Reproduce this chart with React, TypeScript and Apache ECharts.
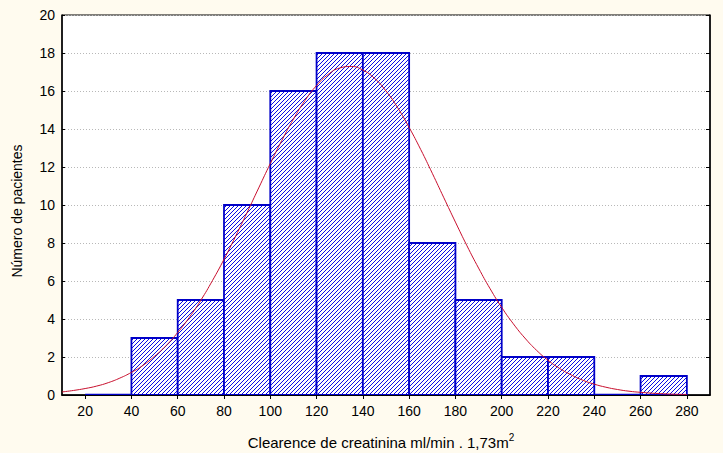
import React, { useEffect, useRef } from "react";
import * as echarts from "echarts";

// Histogram bins: [start, end]
const binStarts = [20, 40, 60, 80, 100, 120, 140, 160, 180, 200, 220, 240, 260];
const binEnds = [40, 60, 80, 100, 120, 140, 160, 180, 200, 220, 240, 260, 280];
const counts = [0, 3, 5, 10, 16, 18, 18, 8, 5, 2, 2, 0, 1];

// Fitted normal curve
const curveX = [10, 15, 20, 25, 30, 35, 40, 45, 50, 55, 60, 65, 70, 75, 80, 85, 90, 95, 100, 105, 110, 115, 120, 125, 130, 135, 140, 145, 150, 155, 160, 165, 170, 175, 180, 185, 190, 195, 200, 205, 210, 215, 220, 225, 230, 235, 240, 245, 250, 255, 260, 265, 270, 275, 280];
const curveY = [0.16, 0.24, 0.34, 0.47, 0.65, 0.89, 1.19, 1.56, 2.04, 2.6, 3.29, 4.08, 4.99, 6.02, 7.14, 8.35, 9.61, 10.9, 12.18, 13.4, 14.52, 15.5, 16.29, 16.87, 17.21, 17.29, 17.1, 16.67, 16.0, 15.13, 14.08, 12.92, 11.67, 10.38, 9.1, 7.85, 6.68, 5.59, 4.61, 3.75, 3.0, 2.36, 1.83, 1.4, 1.06, 0.78, 0.57, 0.41, 0.29, 0.2, 0.14, 0.095, 0.063, 0.04, 0.027];

const xTicks = [20, 40, 60, 80, 100, 120, 140, 160, 180, 200, 220, 240, 260, 280];

const BG = "#fffbef";
const BLUE = "#0000c8";
const HATCH = "#0a0ae6";
const RED = "#c8102e";
const FONT = "Liberation Sans, Arial, sans-serif";

export default function App() {
  const ref = useRef<HTMLDivElement>(null);
  useEffect(() => {
    if (!ref.current) return;
    const chart = echarts.init(ref.current, null, { renderer: "svg" });
    const barData = binStarts.map((s, i) => [s, binEnds[i], counts[i]]);
    const curveData = curveX.map((x, i) => [x, curveY[i]]);
    const step = 4;
    const renderItem = (params: any, api: any) => {
      const x0v = api.value(0);
      const x1v = api.value(1);
      const v = api.value(2);
      const pTop = api.coord([x0v, v]);
      const pBot = api.coord([x1v, 0]);
      const x0 = pTop[0], y0 = pTop[1], x1 = pBot[0], y1 = pBot[1];
      if (v === 0) {
        return {
          type: "line",
          shape: { x1: x0, y1: y1, x2: x1, y2: y1 },
          style: { stroke: BLUE, lineWidth: 2.5 },
        };
      }
      const children: any[] = [];
      children.push({
        type: "rect",
        shape: { x: x0, y: y0, width: x1 - x0, height: y1 - y0 },
        style: { fill: "#ffffff", stroke: null },
      });
      const cStart = Math.ceil((x0 + y0) / step) * step;
      const cEnd = x1 + y1;
      for (let c = cStart; c <= cEnd; c += step) {
        const xa = Math.max(x0, c - y1);
        const xb = Math.min(x1, c - y0);
        if (xb > xa) {
          children.push({
            type: "line",
            shape: { x1: xa, y1: c - xa, x2: xb, y2: c - xb },
            style: { stroke: HATCH, lineWidth: 1 },
          });
        }
      }
      children.push({
        type: "rect",
        shape: { x: x0, y: y0, width: x1 - x0, height: y1 - y0 },
        style: { fill: "none", stroke: BLUE, lineWidth: 1.8 },
      });
      return { type: "group", children };
    };

    const axisText = { color: "#000", fontSize: 14, fontFamily: FONT };
    chart.setOption({
      animation: false,
      backgroundColor: BG,
      grid: { left: 62, top: 15, right: 13, bottom: 58, show: true, backgroundColor: "#ffffff", borderColor: "#000", borderWidth: 1 },
      xAxis: [
        {
          type: "value",
          min: 10,
          max: 290,
          position: "bottom",
          axisLine: { show: true, onZero: false, lineStyle: { color: "#000", width: 1 } },
          axisTick: { show: false },
          axisLabel: { ...axisText, margin: 9, customValues: xTicks },
          splitLine: { show: false },
        },
        {
          type: "value",
          min: 10,
          max: 290,
          position: "top",
          axisLine: { show: true, lineStyle: { color: "#000", width: 1.5 } },
          axisTick: { show: true, inside: true, length: 4, customValues: xTicks, lineStyle: { color: "#000" } },
          axisLabel: { show: false },
          splitLine: { show: false },
        },
      ],
      yAxis: [
        {
          type: "value",
          min: 0,
          max: 20,
          interval: 2,
          position: "left",
          axisLine: { show: true, lineStyle: { color: "#000", width: 1.5 } },
          axisTick: { show: true, inside: true, length: 3, lineStyle: { color: "#000" } },
          axisLabel: { ...axisText, margin: 7 },
          splitLine: { show: true, lineStyle: { color: "#b8b8b8", type: [1, 2], width: 1 } },
        },
        {
          type: "value",
          min: 0,
          max: 20,
          interval: 2,
          position: "right",
          axisLine: { show: true, lineStyle: { color: "#000", width: 1.5 } },
          axisTick: { show: true, inside: true, length: 4, lineStyle: { color: "#000" } },
          axisLabel: { show: false },
          splitLine: { show: false },
        },
      ],
      graphic: [
        {
          type: "text",
          x: 17,
          y: 211,
          rotation: Math.PI / 2,
          style: {
            text: "Número de pacientes",
            fill: "#000",
            fontSize: 14,
            fontFamily: FONT,
            align: "center",
            verticalAlign: "middle",
          },
        },
        {
          type: "text",
          x: 381,
          y: 441,
          style: {
            text: "{a|Clearence de creatinina ml/min . 1,73m}{s|2}",
            fill: "#000",
            fontFamily: FONT,
            align: "center",
            verticalAlign: "middle",
            rich: {
              a: { fontSize: 15, fontFamily: FONT, lineHeight: 18, verticalAlign: "bottom" },
              s: { fontSize: 10, fontFamily: FONT, lineHeight: 18, verticalAlign: "top" },
            },
          },
        },
      ],
      series: [
        {
          type: "custom",
          xAxisIndex: 0,
          yAxisIndex: 0,
          renderItem,
          encode: { x: [0, 1], y: 2 },
          data: barData,
          clip: true,
          z: 2,
        },
        {
          type: "line",
          xAxisIndex: 0,
          yAxisIndex: 0,
          data: curveData,
          smooth: true,
          showSymbol: false,
          symbol: "none",
          lineStyle: { color: RED, width: 1 },
          z: 3,
        },
      ],
    });
    return () => chart.dispose();
  }, []);
  return <div ref={ref} style={{ width: 723, height: 453, position: "absolute", left: 0, top: 0 }} />;
}
